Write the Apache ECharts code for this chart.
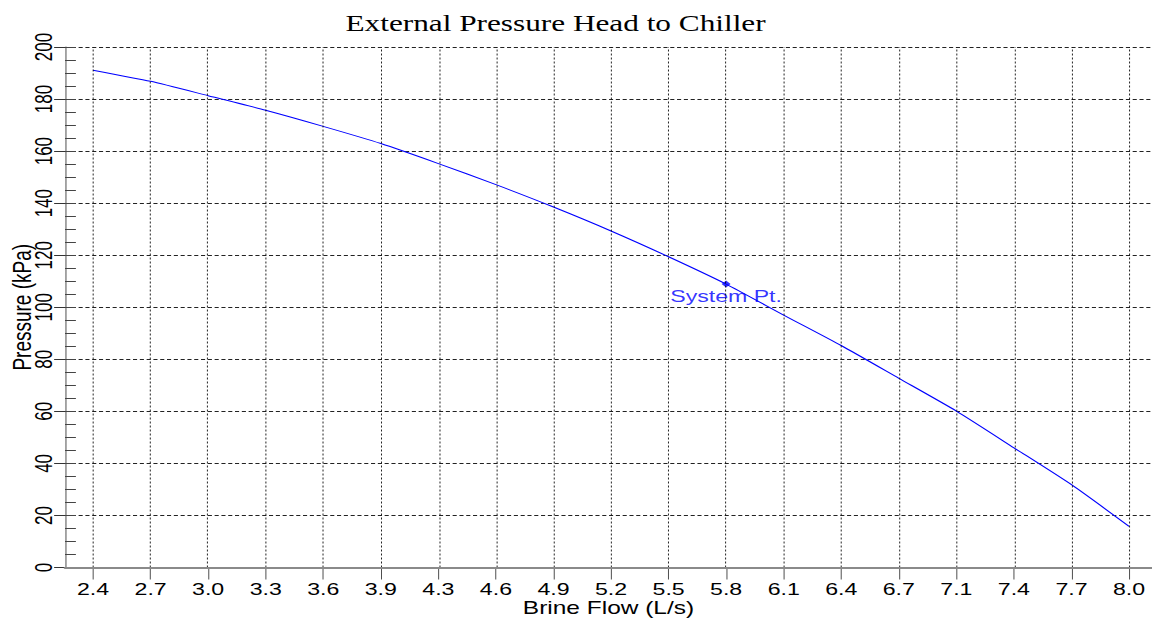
<!DOCTYPE html>
<html><head><meta charset="utf-8">
<script src="https://cdn.jsdelivr.net/npm/echarts@6/dist/echarts.min.js"></script>
<style>
html,body{margin:0;padding:0;background:#fff;overflow:hidden;}
#wrap{width:1152px;height:623px;overflow:hidden;position:relative;background:#fff;}
#chart{width:847px;height:623px;transform-origin:0 0;transform:scaleX(1.36009);}
</style></head><body>
<div id="wrap"><div id="chart"></div></div>
<script>
// ---- data ----
const chartTitle = 'External Pressure Head to Chiller';
const xName = 'Brine Flow (L/s)';
const yName = 'Pressure (kPa)';
const xTickLabels = ['2.4','2.7','3.0','3.3','3.6','3.9','4.3','4.6','4.9','5.2','5.5','5.8','6.1','6.4','6.7','7.1','7.4','7.7','8.0'];
const xTickFirst = 2.4;
const xTickLast = 8.0;
const flow = [2.4, 2.711, 3.022, 3.333, 3.644, 3.956, 4.267, 4.578, 4.889, 5.2, 5.511, 5.822, 6.133, 6.444, 6.756, 7.067, 7.378, 7.689, 8.0];
const pressure = [191.1, 186.8, 181.3, 175.7, 169.5, 162.9, 155.2, 147.1, 138.5, 129.3, 119.4, 108.9, 97.0, 85.3, 72.7, 60.1, 46.0, 31.8, 15.8];
const systemPoint = [5.822, 108.9];
const systemLabel = 'System Pt.';
const yMin = 0, yMax = 200, yStep = 20;

// ---- build ----
const SX = 1.36009;          // horizontal stretch of the picture
const vW = 1 / SX;           // width that renders as 1px for vertical strokes
const xTicks = xTickLabels.map((_, i) => xTickFirst + i * (xTickLast - xTickFirst) / (xTickLabels.length - 1));
const xMin = 2.2485, xMax = 8.1242;
const labelFor = v => {
  let best = 0, d = Infinity;
  xTicks.forEach((t, i) => { const dd = Math.abs(t - v); if (dd < d) { d = dd; best = i; } });
  return xTickLabels[best];
};
const sans = 'Liberation Sans';

const chart = echarts.init(document.getElementById('chart'), null, {renderer: 'svg'});
chart.setOption({
  animation: false,
  backgroundColor: '#fff',
  title: {
    text: chartTitle, left: 249, top: 7,
    textStyle: {fontFamily: 'Liberation Serif', fontSize: 23, fontWeight: 'normal', color: '#000'}
  },
  grid: {left: 47.8, right: 0, top: 47, bottom: 55.5, containLabel: false, outerBoundsMode: 'none'},
  xAxis: [{
    type: 'value', min: xMin, max: xMax,
    name: xName, nameLocation: 'middle', nameGap: 32, nameMoveOverlap: false,
    nameTextStyle: {fontFamily: sans, fontSize: 18, color: '#000'},
    axisLine: {show: true, onZero: false, lineStyle: {color: '#333', width: 1}},
    axisTick: {show: true, customValues: xTicks, length: 12, lineStyle: {color: '#333', width: vW}},
    axisLabel: {show: true, customValues: xTicks, margin: 13, formatter: v => labelFor(v),
      fontFamily: sans, fontSize: 17, color: '#000'},
    splitLine: {show: false}
  }, {
    type: 'value', position: 'top', min: xMin, max: xMax, z: 5,
    axisLine: {show: true, lineStyle: {color: '#8a8a8a', width: 2}},
    axisTick: {show: false}, axisLabel: {show: false}, splitLine: {show: false}
  }],
  yAxis: [{
    type: 'value', min: yMin, max: yMax, interval: yStep,
    name: yName, nameLocation: 'middle', nameGap: 22, nameRotate: 90, nameMoveOverlap: false,
    nameTextStyle: {fontFamily: sans, fontSize: 19, color: '#000'},
    axisLine: {show: true, lineStyle: {color: '#333', width: vW}},
    axisTick: {show: true, inside: true, length: 8, lineStyle: {color: '#444', width: 1}},
    minorTick: {show: true, splitNumber: 4, length: 8, lineStyle: {color: '#444', width: 1}},
    axisLabel: {rotate: 90, margin: 7, fontFamily: sans, fontSize: 17, color: '#000'},
    splitLine: {show: true, lineStyle: {color: '#222', width: 1, type: [3, 2]}}
  }, {
    type: 'value', position: 'left', offset: 0, min: yMin, max: yMax, interval: yStep,
    axisLine: {show: false},
    axisTick: {show: true, inside: false, length: 8, lineStyle: {color: '#333', width: 1}},
    axisLabel: {show: false}, splitLine: {show: false}
  }],
  series: [{
    type: 'line', xAxisIndex: 0, yAxisIndex: 0,
    data: flow.map((x, i) => [x, pressure[i]]),
    smooth: 0.2, showSymbol: false, symbol: 'none',
    lineStyle: {color: '#0000ff', width: 1},
    emphasis: {disabled: true}, z: 3,
    markLine: {
      silent: true, symbol: ['none', 'none'], label: {show: false},
      lineStyle: {color: '#000', width: vW, type: [2, 2]},
      emphasis: {disabled: true},
      data: xTicks.map(v => ({xAxis: v}))
    }
  }, {
    type: 'scatter', xAxisIndex: 0, yAxisIndex: 0,
    data: [systemPoint], symbol: 'diamond', symbolSize: [6.6, 7],
    itemStyle: {color: '#0000ff'}, z: 4,
    label: {show: true, formatter: systemLabel, position: 'bottom', distance: 0,
      fontFamily: sans, fontSize: 17, color: '#0000ff'},
    emphasis: {disabled: true}
  }]
});
</script>
</body></html>
